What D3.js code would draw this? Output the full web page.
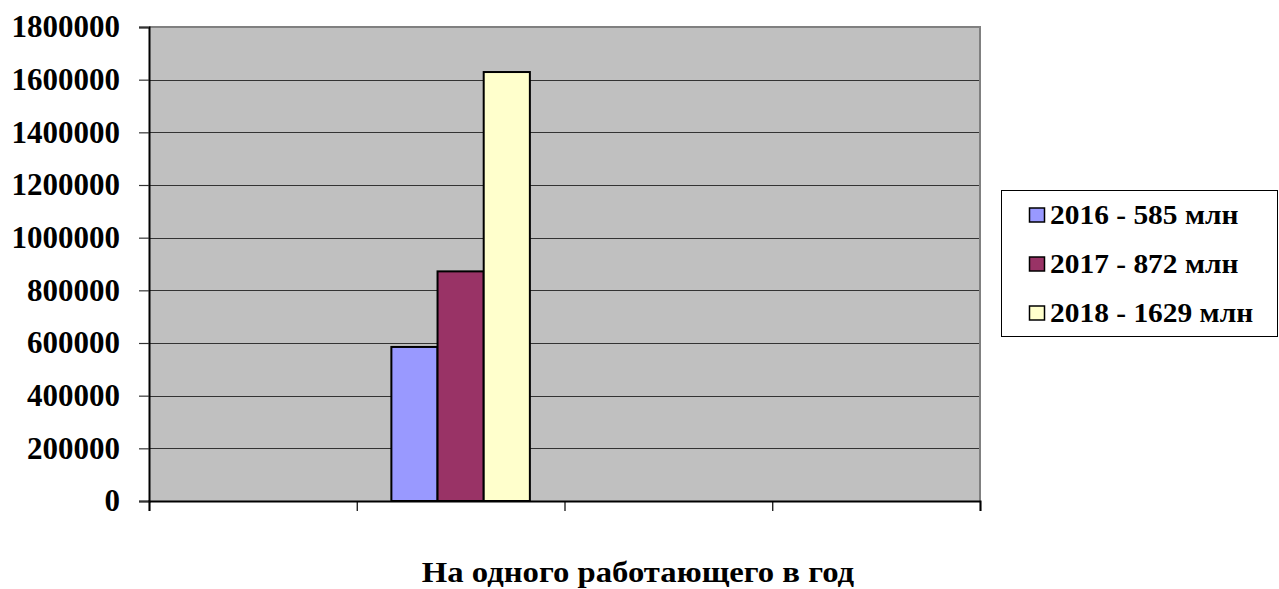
<!DOCTYPE html>
<html><head><meta charset="utf-8">
<script src="https://cdn.jsdelivr.net/npm/d3@7"></script>
<style>body{margin:0;background:#fff}svg{display:block}
.t{font-family:"Liberation Serif","Times New Roman",serif;font-weight:bold;fill:#000}</style>
</head><body>
<svg id="c" width="1279" height="589"></svg>
<script>
const categories = ["", "На одного работающего в год", " ", "  "];
const seriesNames = ["2016 - 585 млн", "2017 - 872 млн", "2018 - 1629 млн"];
const seriesColors = ["#9999FF", "#993366", "#FFFFCC"];
const values2016 = [null, 585000, null, null];
const values2017 = [null, 872000, null, null];
const values2018 = [null, 1629000, null, null];
const yTicks = [0, 200000, 400000, 600000, 800000, 1000000, 1200000, 1400000, 1600000, 1800000];
const xTitle = "На одного работающего в год";

const series = [values2016, values2017, values2018];
const svg = d3.select("#c");
const L = 149, R = 980, T = 27, B = 501;
const stretch = 1.09;
function widen(sel) {
  sel.each(function () {
    const w = this.getComputedTextLength();
    d3.select(this).attr("textLength", w * stretch).attr("lengthAdjust", "spacingAndGlyphs");
  });
}

const x = d3.scaleBand().domain(d3.range(categories.length)).range([L, R]).paddingInner(0).paddingOuter(0);
const y = d3.scaleLinear().domain([0, 1800000]).range([B, T]);

svg.append("rect").attr("x", L).attr("y", T).attr("width", R - L).attr("height", B - T).attr("fill", "#C0C0C0");
svg.append("g").selectAll("line").data(yTicks.filter(d => d > 0)).join("line")
  .attr("x1", L).attr("x2", R).attr("y1", d => Math.round(y(d)) + 0.5).attr("y2", d => Math.round(y(d)) + 0.5)
  .attr("stroke", "#333").attr("stroke-width", 1.2);
svg.append("path").attr("d", `M${L},${T}H${R}V${B}`).attr("fill", "none").attr("stroke", "#808080").attr("stroke-width", 2);

const barW = x.bandwidth() / 4.5;
series.forEach((vals, si) => {
  svg.append("g").selectAll("rect").data(vals.map((v, i) => ({v, i})).filter(d => d.v != null)).join("rect")
    .attr("x", d => x(d.i) + x.bandwidth() / 2 - 1.5 * barW + si * barW)
    .attr("y", d => y(d.v))
    .attr("width", barW)
    .attr("height", d => B - y(d.v))
    .attr("fill", seriesColors[si])
    .attr("stroke", "#000").attr("stroke-width", 2);
});

const yAxis = d3.axisLeft(y).tickValues(yTicks).tickSize(10).tickPadding(19).tickFormat(d3.format("d"));
const gy = svg.append("g").attr("transform", `translate(${L},0)`).call(yAxis);
gy.attr("font-family", null).attr("font-size", null);
gy.select(".domain").attr("stroke", "#000").attr("stroke-width", 2);
gy.selectAll(".tick line").attr("stroke", "#333").attr("stroke-width", 1.2);
gy.selectAll("text").attr("class", "t").style("font-size", "31px").attr("fill", "#000");

const xLin = d3.scaleLinear().domain([0, categories.length]).range([L, R]);
const gx = svg.append("g").attr("transform", `translate(0,${B})`)
  .call(d3.axisBottom(xLin).tickValues(d3.range(categories.length + 1)).tickSize(10).tickFormat(""));
gx.select(".domain").attr("stroke", "#000").attr("stroke-width", 2);
gx.selectAll(".tick line").attr("stroke", "#000").attr("stroke-width", 1.2);

svg.append("text").attr("class", "t").attr("x", 638).attr("y", 582).attr("text-anchor", "middle")
  .style("font-size", "30px").text(xTitle).call(widen);

const lg = svg.append("g");
lg.append("rect").attr("x", 1001.5).attr("y", 190.5).attr("width", 276).attr("height", 146).attr("fill", "#fff").attr("stroke", "#000");
const rowsY = [224, 273, 322];
seriesNames.forEach((n, i) => {
  lg.append("rect").attr("x", 1029.5).attr("y", rowsY[i] - 16).attr("width", 15).attr("height", 14)
    .attr("fill", seriesColors[i]).attr("stroke", "#000").attr("stroke-width", 1.5);
  lg.append("text").attr("class", "t").attr("x", 1050).attr("y", rowsY[i])
    .style("font-size", "27px").text(n).call(widen);
});
</script>
</body></html>
